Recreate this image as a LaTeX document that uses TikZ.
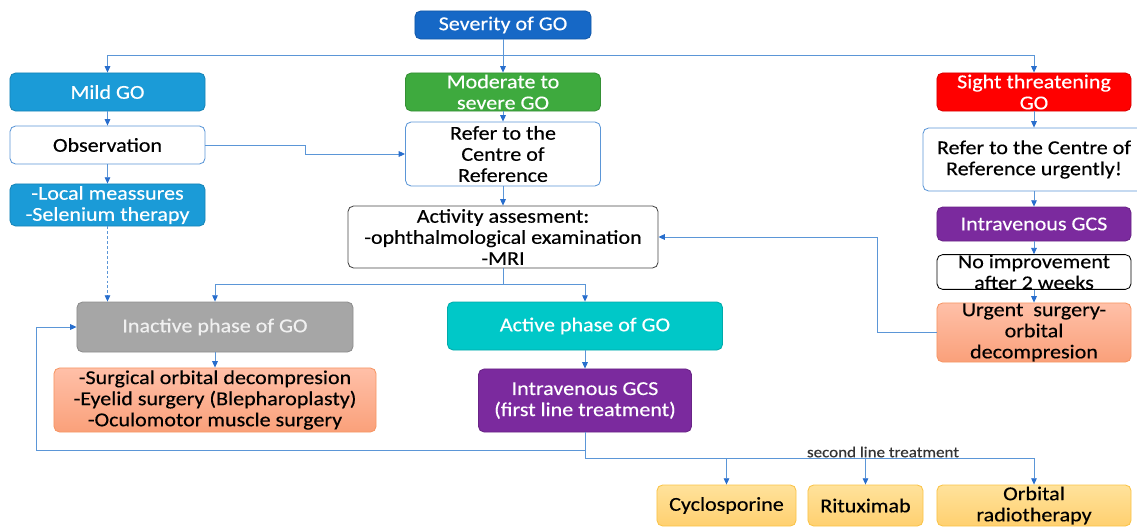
\documentclass[tikz,border=0pt]{standalone}
\usepackage{fontspec}
\setmainfont{Carlito}[FakeStretch=1.12,FakeBold=0.35]
\usetikzlibrary{arrows.meta}

\definecolor{sevblue}{RGB}{22,104,198}
\definecolor{mildblue}{RGB}{27,155,215}
\definecolor{modgreen}{RGB}{62,170,62}
\definecolor{sightred}{RGB}{255,0,0}
\definecolor{ivpurple}{RGB}{123,42,158}
\definecolor{inactgray}{RGB}{166,166,166}
\definecolor{activeteal}{RGB}{0,200,200}
\definecolor{salmontop}{RGB}{255,192,168}
\definecolor{salmonbot}{RGB}{250,160,122}
\definecolor{salmonline}{RGB}{246,150,100}
\definecolor{goldtop}{RGB}{255,226,155}
\definecolor{goldbot}{RGB}{255,208,112}
\definecolor{goldline}{RGB}{250,195,70}
\definecolor{lineblue}{RGB}{91,150,215}
\definecolor{tipblue}{RGB}{40,110,205}
\definecolor{framegray}{RGB}{70,70,70}

\begin{document}
\begin{tikzpicture}[x=0.025cm,y=-0.025cm,
  every node/.style={font=\fontsize{14}{15}\selectfont},
  gobox/.style={draw, rounded corners=4pt, align=center, inner sep=0pt, line width=0.6pt},
  fillbox/.style={gobox, fill=#1, draw=#1!85!black, text=white},
  whitebox/.style={gobox, fill=white, draw=#1},
  salmonbox/.style={gobox, top color=salmontop, bottom color=salmonbot, draw=salmonline},
  goldbox/.style={gobox, top color=goldtop, bottom color=goldbot, draw=goldline},
  link/.style={draw=lineblue, line width=0.6pt},
  arr/.style={link, -{Triangle[length=4.5pt,width=4pt,color=tipblue]}}
]
  \useasboundingbox (0,0) rectangle (1137,527);
  \clip (0,0) rectangle (1137,527);

  %% top
  \node[fillbox=sevblue, minimum width=4.4cm, minimum height=0.7cm] (sev) at (503,25) {Severity of GO};

  %% left column
  \node[fillbox=mildblue, minimum width=4.875cm, minimum height=0.95cm] (mild) at (107.5,92) {Mild GO};
  \node[whitebox=lineblue, minimum width=4.875cm, minimum height=0.95cm] (obs) at (107.5,145) {Observation};
  \node[fillbox=mildblue, minimum width=4.875cm, minimum height=1.05cm] (local) at (107.5,205) {-Local meassures\\-Selenium therapy};

  %% middle column
  \node[fillbox=modgreen, minimum width=4.875cm, minimum height=0.95cm] (mod) at (503,92) {Moderate to\\severe GO};
  \node[whitebox=lineblue, minimum width=4.875cm, minimum height=1.6cm] (ref) at (503,154) {Refer to the\\Centre of\\Reference};
  \node[whitebox=framegray, minimum width=7.75cm, minimum height=1.55cm] (act) at (503,237) {Activity assesment:\\-ophthalmological examination\\-MRI};

  %% right column
  \node[fillbox=sightred, minimum width=4.85cm, minimum height=0.95cm] (sight) at (1034,92) {Sight threatening\\GO};
  \node[whitebox=lineblue, minimum width=5.55cm, minimum height=1.575cm] (refu) at (1034,159.5) {Refer to the Centre of\\Reference urgently!};
  \node[fillbox=ivpurple, minimum width=4.85cm, minimum height=0.85cm] (ivr) at (1034,224) {Intravenous GCS};
  \node[whitebox=black, minimum width=4.85cm, minimum height=0.85cm] (noimp) at (1034,272) {No improvement\\after 2 weeks};
  \node[salmonbox, minimum width=4.85cm, minimum height=1.475cm] (urg) at (1034,332.5) {Urgent \ surgery-\\orbital\\decompresion};

  %% phases
  \node[fillbox=inactgray, text=white!94!black, minimum width=6.9cm, minimum height=1.25cm] (inact) at (215,327) {Inactive phase of GO};
  \node[fillbox=activeteal, minimum width=6.875cm, minimum height=1.2cm] (active) at (585,326) {Active phase of GO};
  \node[salmonbox, minimum width=8.05cm, minimum height=1.6cm] (surg) at (215,400) {-Surgical orbital decompresion\\-Eyelid surgery (Blepharoplasty)\\-Oculomotor muscle surgery};
  \node[fillbox=ivpurple, minimum width=5.325cm, minimum height=1.575cm] (iv1) at (585,400.5) {Intravenous GCS\\(first line treatment)};

  %% second line
  \node[goldbox, minimum width=3.475cm, minimum height=1.025cm] (cyc) at (726.5,505.5) {Cyclosporine};
  \node[goldbox, minimum width=2.875cm, minimum height=1.025cm] (rit) at (865.5,505.5) {Rituximab};
  \node[goldbox, minimum width=4.85cm, minimum height=1.025cm] (orb) at (1034,505.5) {Orbital\\radiotherapy};
  \node[font=\fontsize{10.8}{12}\selectfont, text=black!80] (second) at (883,452) {second line treatment};

  %% connectors
  \coordinate (split1) at (503,55);
  \coordinate (split2) at (503,284);
  \coordinate (split3) at (585,458);
  \coordinate (loopL) at (36,450);

  \draw[arr] (sev) -- (mod);
  \draw[arr] (split1) -| (mild);
  \draw[arr] (split1) -| (sight);
  \draw[arr] (mild) -- (obs);
  \draw[arr] (obs) -- (local);
  \draw[arr] (obs.east) -- ++(100,0) |- (ref.west);
  \draw[arr, dash pattern=on 2pt off 1.5pt] (local.south) -- (local.south |- inact.north);
  \draw[arr] (mod) -- (ref);
  \draw[arr] (ref) -- (act);
  \draw[link] (act.south) -- (split2);
  \draw[arr] (split2) -| (inact);
  \draw[arr] (split2) -| (active);
  \draw[arr] (inact) -- (surg);
  \draw[arr] (active) -- (iv1);
  \draw[arr] (iv1.south) |- (loopL) |- (inact.west);
  \draw[link] (iv1.south) -- (split3);
  \draw[arr] (split3) -| (cyc);
  \draw[arr] (split3) -| (rit);
  \draw[arr] (split3) -| (orb);

  \draw[arr] (sight) -- (refu);
  \draw[arr] (refu) -- (ivr);
  \draw[arr] (ivr) -- (noimp);
  \draw[arr] (noimp) -- (urg);
  \draw[arr] (urg.west) -- ++(-59,0) |- (act.east);

\end{tikzpicture}
\end{document}
